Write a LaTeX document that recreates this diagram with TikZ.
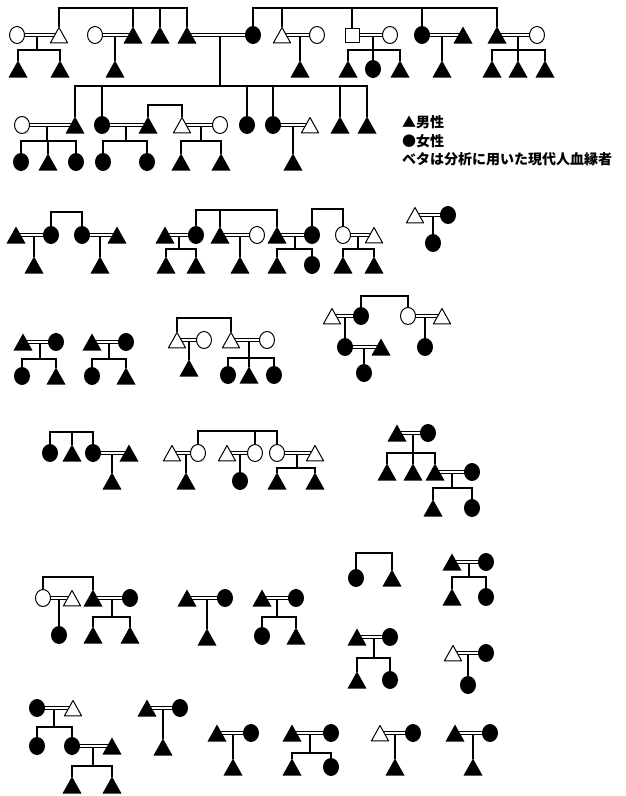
\documentclass[tikz,border=0pt]{standalone}
\usepackage{fontspec}
\newfontfamily\jpfont{Noto Sans CJK JP}
\usetikzlibrary{shapes.geometric,calc}
\pgfdeclarelayer{bg}
\pgfsetlayers{bg,main}
\tikzset{
 sym/.style={inner sep=0pt, outer sep=0pt, line width=1pt},
 tri/.style={sym, minimum width=19pt, minimum height=17pt},
 fm/.style={tri, path picture={\fill[black] (path picture bounding box.south west) -- (path picture bounding box.south east) -- (path picture bounding box.north) -- cycle;}},
 om/.style={tri, path picture={\filldraw[fill=white, draw=black, line width=1pt, line join=round] ([shift={(0.9pt,0.6pt)}]path picture bounding box.south west) -- ([shift={(-0.9pt,0.6pt)}]path picture bounding box.south east) -- ([yshift=-1pt]path picture bounding box.north) -- cycle;}},
 circ/.style={sym, ellipse, minimum width=16pt, minimum height=18pt},
 ff/.style={circ, fill=black},
 of/.style={circ, draw=black, fill=white, minimum width=15pt, minimum height=17pt},
 os/.style={sym, rectangle, draw=black, fill=white, minimum size=14pt},
 con/.style={line width=1.1pt, black},
 lg/.style={anchor=west, inner sep=0pt, font=\jpfont\bfseries\fontsize{14}{16}\selectfont},
}
\newcommand\pedMar[2]{\draw[con] ([yshift=1.6pt]#1.center) -- ([yshift=1.6pt]#2.center);
 \draw[con] ([yshift=-1.6pt]#1.center) -- ([yshift=-1.6pt]#2.center);}
\newcommand\pedKids[2]{\foreach \c in {#2} {\draw[con] (#1) -| (\c.north);}}
\newcommand\pedDrop[2]{\draw[con] ($(#1 |- #2.center)+(0,1.6)$) -- (#1);}
\newcommand\pedOne[2]{\draw[con] ($(#1.north |- #2.center)+(0,1.6)$) -- (#1.north);}
\begin{document}
\begin{tikzpicture}[x=1pt,y=-1pt]
\useasboundingbox (0,0) rectangle (625,796);
\begin{pgfonlayer}{bg}
\fill[white] (0,0) rectangle (625,796);
\end{pgfonlayer}
% ---------- group A
\node[of] (a1) at (17,35) {};
\node[om] (a2) at (59,35) {};
\node[of] (a3) at (95,35) {};
\node[fm] (a4) at (133,35) {};
\node[fm] (a5) at (160,35) {};
\node[fm] (a6) at (187,35) {};
\node[ff] (a7) at (253,35) {};
\node[om] (a8) at (282,35) {};
\node[of] (a9) at (317,35) {};
\node[os] (a10) at (352,35) {};
\node[of] (a11) at (390,35) {};
\node[ff] (a12) at (422,35) {};
\node[fm] (a13) at (463,35) {};
\node[fm] (a14) at (497,35) {};
\node[of] (a15) at (537,35) {};
\node[fm] (ac1) at (18,69) {};
\node[fm] (ac2) at (60,69) {};
\node[fm] (ac3) at (115,69) {};
\node[fm] (ac4) at (300,69) {};
\node[fm] (ac5) at (348,69) {};
\node[ff] (ac6) at (373,69) {};
\node[fm] (ac7) at (400,69) {};
\node[fm] (ac8) at (442,69) {};
\node[fm] (ac9) at (492,69) {};
\node[fm] (ac10) at (518,69) {};
\node[fm] (ac11) at (545,69) {};
\coordinate (ta1) at (120,8);
\coordinate (ta2) at (380,8);
\coordinate (ka1) at (37,50);
\coordinate (ka2) at (220,86);
\coordinate (ka3) at (373,50);
\coordinate (ka4) at (518,50);
% ---------- group B
\node[of] (b1) at (22,125) {};
\node[fm] (b2) at (75,125) {};
\node[ff] (b3) at (102,125) {};
\node[fm] (b4) at (148,125) {};
\node[om] (b5) at (182,125) {};
\node[of] (b6) at (220,125) {};
\node[ff] (b7) at (247,125) {};
\node[ff] (b8) at (273,125) {};
\node[om] (b9) at (310,125) {};
\node[fm] (b10) at (340,125) {};
\node[fm] (b11) at (367,125) {};
\node[ff] (bc1) at (21,162) {};
\node[fm] (bc2) at (48,162) {};
\node[ff] (bc3) at (76,162) {};
\node[ff] (bc4) at (103,162) {};
\node[ff] (bc5) at (147,162) {};
\node[fm] (bc6) at (181,162) {};
\node[fm] (bc7) at (221,162) {};
\node[fm] (bc8) at (293,162) {};
\coordinate (tb1) at (165,105);
\coordinate (kb1) at (47,141);
\coordinate (kb2) at (126,141);
\coordinate (kb3) at (201,141);
% legend
\node[lg] (lg1) at (402,122) {▲男性};
\node[lg] (lg2) at (402,141) {●女性};
\node[lg] (lg3) at (402,159) {ベタは分析に用いた現代人血縁者};
% ---------- group C
\node[fm] (c1) at (16,235) {};
\node[ff] (c2) at (51,235) {};
\node[ff] (c3) at (82,235) {};
\node[fm] (c4) at (117,235) {};
\node[fm] (c5) at (165,235) {};
\node[ff] (c6) at (196,235) {};
\node[fm] (c7) at (220,235) {};
\node[of] (c8) at (257,235) {};
\node[fm] (c9) at (277,235) {};
\node[ff] (c10) at (312,235) {};
\node[of] (c11) at (343,235) {};
\node[om] (c12) at (374,235) {};
\node[om] (c13) at (415,215) {};
\node[ff] (c14) at (448,215) {};
\node[fm] (cc1) at (34,265) {};
\node[fm] (cc2) at (100,265) {};
\node[fm] (cc3) at (166,265) {};
\node[fm] (cc4) at (196,265) {};
\node[fm] (cc5) at (240,265) {};
\node[fm] (cc6) at (277,265) {};
\node[ff] (cc7) at (312,265) {};
\node[fm] (cc8) at (343,265) {};
\node[fm] (cc9) at (374,265) {};
\node[ff] (cc10) at (433,243) {};
\coordinate (tc1) at (66,212);
\coordinate (tc2) at (240,210);
\coordinate (tc3) at (328,209);
\coordinate (kc1) at (179,249);
\coordinate (kc2) at (295,249);
\coordinate (kc3) at (358,249);
% ---------- group D
\node[fm] (d1) at (23,342) {};
\node[ff] (d2) at (56,342) {};
\node[fm] (d3) at (92,342) {};
\node[ff] (d4) at (126,342) {};
\node[om] (d5) at (177,340) {};
\node[of] (d6) at (204,340) {};
\node[om] (d7) at (231,340) {};
\node[of] (d8) at (267,340) {};
\node[om] (d9) at (332,316) {};
\node[ff] (d10) at (361,316) {};
\node[of] (d11) at (408,316) {};
\node[om] (d12) at (442,316) {};
\node[ff] (dc1) at (22,376) {};
\node[fm] (dc2) at (56,376) {};
\node[ff] (dc3) at (92,376) {};
\node[fm] (dc4) at (126,376) {};
\node[fm] (dc5) at (189,368) {};
\node[ff] (dc6) at (228,375) {};
\node[fm] (dc7) at (249,375) {};
\node[ff] (dc8) at (274,375) {};
\node[ff] (dc9) at (345,347) {};
\node[fm] (dc10) at (381,347) {};
\node[ff] (dc11) at (364,373) {};
\node[ff] (dc12) at (425,347) {};
\coordinate (kd1) at (40,359);
\coordinate (kd2) at (109,359);
\coordinate (td1) at (204,318);
\coordinate (kd3) at (249,358);
\coordinate (td2) at (385,296);
% ---------- group E
\node[ff] (e1) at (50,453) {};
\node[fm] (e2) at (72,453) {};
\node[ff] (e3) at (93,453) {};
\node[fm] (e4) at (129,453) {};
\node[om] (e5) at (172,453) {};
\node[of] (e6) at (198,453) {};
\node[om] (e7) at (227,453) {};
\node[of] (e8) at (255,453) {};
\node[of] (e9) at (277,453) {};
\node[om] (e10) at (315,453) {};
\node[fm] (e11) at (397,433) {};
\node[ff] (e12) at (428,433) {};
\node[fm] (ec1) at (112,481) {};
\node[fm] (ec2) at (186,481) {};
\node[ff] (ec3) at (240,481) {};
\node[fm] (ec4) at (277,481) {};
\node[fm] (ec5) at (315,481) {};
\node[fm] (ec6) at (387,472) {};
\node[fm] (ec7) at (413,472) {};
\node[fm] (ec8) at (435,472) {};
\node[ff] (ec9) at (472,472) {};
\node[fm] (ec10) at (433,508) {};
\node[ff] (ec11) at (472,508) {};
\coordinate (te1) at (72,432);
\coordinate (te2) at (240,431);
\coordinate (ke1) at (297,468);
\coordinate (ke2) at (413,453);
\coordinate (ke3) at (452,488);
% ---------- group F
\node[of] (f1) at (43,598) {};
\node[om] (f2) at (72,598) {};
\node[fm] (f3) at (93,598) {};
\node[ff] (f4) at (130,598) {};
\node[fm] (f5) at (187,598) {};
\node[ff] (f6) at (225,598) {};
\node[fm] (f7) at (262,598) {};
\node[ff] (f8) at (296,598) {};
\node[ff] (f9) at (356,578) {};
\node[fm] (f10) at (392,578) {};
\node[fm] (f11) at (452,562) {};
\node[ff] (f12) at (486,562) {};
\node[fm] (f13) at (357,637) {};
\node[ff] (f14) at (390,637) {};
\node[om] (f15) at (453,653) {};
\node[ff] (f16) at (486,653) {};
\node[ff] (fc1) at (59,635) {};
\node[fm] (fc2) at (93,635) {};
\node[fm] (fc3) at (130,635) {};
\node[fm] (fc4) at (207,637) {};
\node[ff] (fc5) at (262,636) {};
\node[fm] (fc6) at (296,636) {};
\node[fm] (fc7) at (452,597) {};
\node[ff] (fc8) at (486,597) {};
\node[fm] (fc9) at (357,680) {};
\node[ff] (fc10) at (390,680) {};
\node[ff] (fc11) at (468,685) {};
\coordinate (tf1) at (68,577);
\coordinate (kf1) at (112,617);
\coordinate (kf2) at (277,617);
\coordinate (tf2) at (374,553);
\coordinate (kf3) at (469,577);
\coordinate (kf4) at (374,658);
% ---------- group G
\node[ff] (g1) at (37,708) {};
\node[om] (g2) at (73,708) {};
\node[fm] (g3) at (147,708) {};
\node[ff] (g4) at (180,708) {};
\node[fm] (g5) at (217,733) {};
\node[ff] (g6) at (251,733) {};
\node[fm] (g7) at (292,733) {};
\node[ff] (g8) at (331,733) {};
\node[om] (g9) at (380,733) {};
\node[ff] (g10) at (413,733) {};
\node[fm] (g11) at (455,733) {};
\node[ff] (g12) at (490,733) {};
\node[ff] (gc1) at (37,746) {};
\node[ff] (gc2) at (72,746) {};
\node[fm] (gc3) at (112,746) {};
\node[fm] (gc4) at (72,785) {};
\node[fm] (gc5) at (112,785) {};
\node[fm] (gc6) at (163,747) {};
\node[fm] (gc7) at (233,767) {};
\node[fm] (gc8) at (292,767) {};
\node[ff] (gc9) at (331,767) {};
\node[fm] (gc10) at (395,767) {};
\node[fm] (gc11) at (473,767) {};
\coordinate (kg1) at (54,727);
\coordinate (kg2) at (93,766);
\coordinate (kg3) at (310,753);
% ---------- connectors
\begin{pgfonlayer}{bg}
% A
\pedKids{ta1}{a2,a4,a5,a6}
\pedKids{ta2}{a7,a8,a10,a12,a14}
\pedMar{a1}{a2} \pedDrop{ka1}{a1} \pedKids{ka1}{ac1,ac2}
\pedMar{a3}{a4} \pedOne{ac3}{a3}
\pedMar{a6}{a7} \pedDrop{ka2}{a6} \pedKids{ka2}{b2,b3,b7,b8,b10,b11}
\pedMar{a8}{a9} \pedOne{ac4}{a8}
\pedMar{a10}{a11} \pedDrop{ka3}{a10} \pedKids{ka3}{ac5,ac6,ac7}
\pedMar{a12}{a13} \pedOne{ac8}{a12}
\pedMar{a14}{a15} \pedDrop{ka4}{a14} \pedKids{ka4}{ac9,ac10,ac11}
% B
\pedKids{tb1}{b4,b5}
\pedMar{b1}{b2} \pedDrop{kb1}{b1} \pedKids{kb1}{bc1,bc2,bc3}
\pedMar{b3}{b4} \pedDrop{kb2}{b3} \pedKids{kb2}{bc4,bc5}
\pedMar{b5}{b6} \pedDrop{kb3}{b5} \pedKids{kb3}{bc6,bc7}
\pedMar{b8}{b9} \pedOne{bc8}{b8}
% C
\pedKids{tc1}{c2,c3}
\pedKids{tc2}{c6,c7,c9}
\pedKids{tc3}{c10,c11}
\pedMar{c1}{c2} \pedOne{cc1}{c1}
\pedMar{c3}{c4} \pedOne{cc2}{c3}
\pedMar{c5}{c6} \pedDrop{kc1}{c5} \pedKids{kc1}{cc3,cc4}
\pedMar{c7}{c8} \pedOne{cc5}{c7}
\pedMar{c9}{c10} \pedDrop{kc2}{c9} \pedKids{kc2}{cc6,cc7}
\pedMar{c11}{c12} \pedDrop{kc3}{c11} \pedKids{kc3}{cc8,cc9}
\pedMar{c13}{c14} \pedOne{cc10}{c13}
% D
\pedMar{d1}{d2} \pedDrop{kd1}{d1} \pedKids{kd1}{dc1,dc2}
\pedMar{d3}{d4} \pedDrop{kd2}{d3} \pedKids{kd2}{dc3,dc4}
\pedKids{td1}{d5,d7}
\pedMar{d5}{d6} \pedOne{dc5}{d5}
\pedMar{d7}{d8} \pedDrop{kd3}{d7} \pedKids{kd3}{dc6,dc7,dc8}
\pedKids{td2}{d10,d11}
\pedMar{d9}{d10} \pedOne{dc9}{d9}
\pedMar{dc9}{dc10} \pedOne{dc11}{dc9}
\pedMar{d11}{d12} \pedOne{dc12}{d11}
% E
\pedKids{te1}{e1,e2,e3}
\pedKids{te2}{e6,e8,e9}
\pedMar{e3}{e4} \pedOne{ec1}{e3}
\pedMar{e5}{e6} \pedOne{ec2}{e5}
\pedMar{e7}{e8} \pedOne{ec3}{e7}
\pedMar{e9}{e10} \pedDrop{ke1}{e9} \pedKids{ke1}{ec4,ec5}
\pedMar{e11}{e12} \pedDrop{ke2}{e11} \pedKids{ke2}{ec6,ec7,ec8}
\pedMar{ec8}{ec9} \pedDrop{ke3}{ec8} \pedKids{ke3}{ec10,ec11}
% F
\pedKids{tf1}{f1,f3}
\pedMar{f1}{f2} \pedOne{fc1}{f1}
\pedMar{f3}{f4} \pedDrop{kf1}{f3} \pedKids{kf1}{fc2,fc3}
\pedMar{f5}{f6} \pedOne{fc4}{f5}
\pedMar{f7}{f8} \pedDrop{kf2}{f7} \pedKids{kf2}{fc5,fc6}
\pedKids{tf2}{f9,f10}
\pedMar{f11}{f12} \pedDrop{kf3}{f11} \pedKids{kf3}{fc7,fc8}
\pedMar{f13}{f14} \pedDrop{kf4}{f13} \pedKids{kf4}{fc9,fc10}
\pedMar{f15}{f16} \pedOne{fc11}{f15}
% G
\pedMar{g1}{g2} \pedDrop{kg1}{g1} \pedKids{kg1}{gc1,gc2}
\pedMar{gc2}{gc3} \pedDrop{kg2}{gc2} \pedKids{kg2}{gc4,gc5}
\pedMar{g3}{g4} \pedOne{gc6}{g3}
\pedMar{g5}{g6} \pedOne{gc7}{g5}
\pedMar{g7}{g8} \pedDrop{kg3}{g7} \pedKids{kg3}{gc8,gc9}
\pedMar{g9}{g10} \pedOne{gc10}{g9}
\pedMar{g11}{g12} \pedOne{gc11}{g11}
\end{pgfonlayer}
\end{tikzpicture}
\end{document}
